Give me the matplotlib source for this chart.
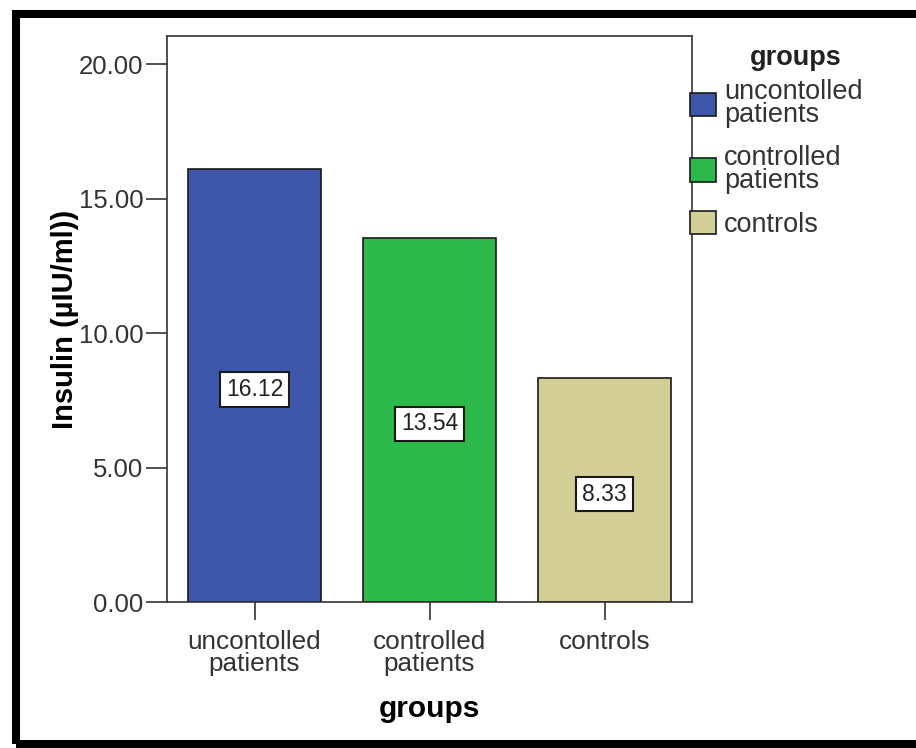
import matplotlib
matplotlib.use("Agg")
import matplotlib.pyplot as plt
from matplotlib.patches import Rectangle

plt.rcParams['font.family'] = ['Liberation Sans', 'DejaVu Sans']

categories = ["uncontolled\npatients", "controlled\npatients", "controls"]
values = [16.12, 13.54, 8.33]
value_labels = ["16.12", "13.54", "8.33"]
colors = ["#3e57ab", "#2db84a", "#d4ce97"]
yticks = [0, 5, 10, 15, 20]
ytick_labels = ["0.00", "5.00", "10.00", "15.00", "20.00"]
legend_title = "groups"

W, H = 916, 748
fig = plt.figure(figsize=(W / 100, H / 100), dpi=100)
ax = fig.add_axes([167 / W, (H - 602) / H, (692 - 167) / W, (602 - 36) / H])

x = list(range(len(categories)))
bars = ax.bar(x, values, width=0.755, color=colors, edgecolor="#1a1a1a", linewidth=1.2)

for xi, v, lab in zip(x, values, value_labels):
    ax.text(xi, v / 2 - 0.15, lab, ha="center", va="center", fontsize=16.5, color="#222222",
            bbox=dict(boxstyle="square,pad=0.25", facecolor="white", edgecolor="#1a1a1a", linewidth=1.5))

ax.set_xlim(-0.5, 2.5)
ax.set_ylim(0, 21.05)
ax.set_yticks(yticks)
ax.set_yticklabels(ytick_labels)
ax.set_xticks(x)
ax.set_xticklabels(categories, linespacing=0.9)
ax.tick_params(axis="y", length=15, width=1.2, labelsize=18.5, colors="#333333", pad=2)
ax.tick_params(axis="x", length=13, width=1.2, labelsize=18.8, colors="#333333", pad=7)
for sp in ax.spines.values():
    sp.set_linewidth(1.2)
    sp.set_color("#333333")

ax.set_ylabel("Insulin (µIU/ml))", fontsize=21, fontweight="bold", labelpad=0)
ax.set_xlabel("groups", fontsize=21.5, fontweight="bold", labelpad=14)

# legend
fig.text(796 / W, 1 - 58 / H, legend_title, ha="center", va="center",
         fontsize=19.5, fontweight="bold", color="#222222")
leg_labels = ["uncontolled\npatients", "controlled\npatients", "controls"]
leg = fig.legend(bars, leg_labels, loc="upper left",
                 bbox_to_anchor=(690 / W, 1 - 79 / H), frameon=False,
                 fontsize=19.5, handlelength=0.95, handleheight=0.95, handletextpad=0.3,
                 labelspacing=0.62, borderaxespad=0, borderpad=0)
for t in leg.get_texts():
    t.set_color("#333333")
    t.set_linespacing(0.85)

# outer frame
fig.patches.append(Rectangle((16 / W, 4 / H), (940 - 16) / W, (744 - 14) / H,
                             transform=fig.transFigure, fill=False,
                             edgecolor="black", linewidth=5.8))

fig.savefig("out.png", dpi=100)
